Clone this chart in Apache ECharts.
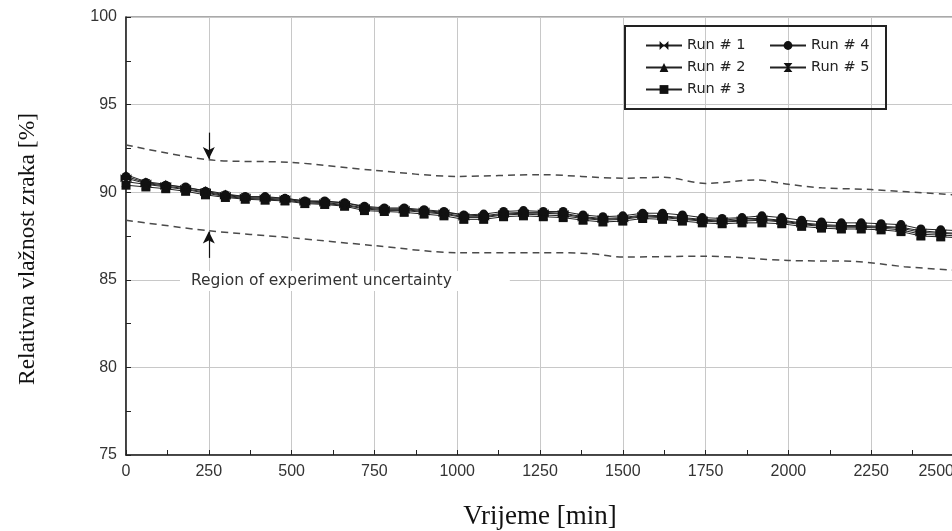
<!DOCTYPE html>
<html>
<head>
<meta charset="utf-8">
<script src="https://cdn.jsdelivr.net/npm/echarts@6/dist/echarts.min.js"></script>
<style>html,body{margin:0;padding:0;background:#fff}#c{width:952px;height:531px}</style>
</head>
<body>
<div id="c"></div>
<script>
const time = [0,60,120,180,240,300,360,420,480,540,600,660,720,780,840,900,960,1020,1080,1140,1200,1260,1320,1380,1440,1500,1560,1620,1680,1740,1800,1860,1920,1980,2040,2100,2160,2220,2280,2340,2400,2460,2520];
const run1 = [90.8,90.5,90.35,90.2,90.0,89.8,89.7,89.65,89.6,89.45,89.4,89.3,89.1,89.0,89.0,88.9,88.8,88.6,88.6,88.75,88.8,88.8,88.75,88.55,88.45,88.5,88.65,88.6,88.5,88.4,88.35,88.4,88.45,88.35,88.2,88.1,88.05,88.05,88.0,87.95,87.7,87.65,87.6];
const run2 = [91.0,90.6,90.45,90.25,90.1,89.9,89.75,89.7,89.65,89.5,89.45,89.4,89.15,89.05,89.05,88.95,88.85,88.7,88.65,88.8,88.85,88.85,88.8,88.6,88.5,88.55,88.7,88.65,88.55,88.45,88.4,88.5,88.5,88.4,88.25,88.15,88.1,88.1,88.05,88.0,87.8,87.7,87.65];
const run3 = [90.4,90.3,90.2,90.05,89.85,89.7,89.6,89.55,89.5,89.35,89.3,89.2,88.95,88.9,88.85,88.75,88.65,88.45,88.45,88.6,88.65,88.6,88.55,88.4,88.3,88.35,88.5,88.45,88.35,88.25,88.2,88.25,88.25,88.2,88.05,87.95,87.9,87.9,87.85,87.75,87.5,87.45,87.4];
const run4 = [90.9,90.55,90.4,90.3,90.05,89.85,89.75,89.75,89.65,89.5,89.5,89.4,89.2,89.1,89.1,89.0,88.9,88.7,88.75,88.9,88.95,88.9,88.9,88.7,88.6,88.65,88.8,88.8,88.7,88.55,88.5,88.55,88.65,88.55,88.4,88.3,88.25,88.25,88.2,88.15,87.9,87.85,87.8];
const run5 = [90.6,90.45,90.3,90.15,89.95,89.75,89.65,89.6,89.55,89.4,89.35,89.25,89.05,88.95,88.95,88.85,88.75,88.55,88.55,88.7,88.75,88.7,88.65,88.5,88.4,88.45,88.6,88.55,88.45,88.35,88.3,88.35,88.4,88.3,88.15,88.05,88.0,88.0,87.95,87.85,87.6,87.55,87.5];
const upperTime = [0,250,500,750,1000,1250,1500,1625,1750,1900,2000,2100,2250,2500];
const upperVal  = [92.7,91.85,91.7,91.25,90.9,91.0,90.8,90.85,90.5,90.7,90.45,90.25,90.15,89.85];
const lowerTime = [0,250,500,750,1000,1250,1400,1500,1750,2000,2200,2350,2500];
const lowerVal  = [88.4,87.8,87.4,86.95,86.55,86.55,86.5,86.3,86.35,86.1,86.05,85.75,85.55];
const runNames = ['Run # 1','Run # 2','Run # 3','Run # 4','Run # 5'];
const yTicks = [75,80,85,90,95,100];
const xTicks = [0,250,500,750,1000,1250,1500,1750,2000,2250,2500];
const annotation = 'Region of experiment uncertainty';

const runs = [run1, run2, run3, run4, run5];
const symbols = [
  'path://M0,0 L10,5 L0,10 Z M20,0 L10,5 L20,10 Z',
  'triangle',
  'rect',
  'circle',
  'path://M0,0 L10,0 L6,5 L10,10 L0,10 L4,5 Z'
];
const sizes = [[11,8],9,9,9,[9,10]];

const pair = (xs, ys) => xs.map((x, i) => [x, ys[i]]);

const chart = echarts.init(document.getElementById('c'), null, {renderer: 'canvas'});
const series = runs.map((r, k) => ({
  name: runNames[k],
  type: 'line',
  data: pair(time, r),
  symbol: symbols[k],
  symbolSize: sizes[k],
  showAllSymbol: true,
  lineStyle: {color: '#222', width: 1},
  itemStyle: {color: '#111'},
  z: 3
}));
series.push({
  name: 'upper', type: 'line', data: pair(upperTime, upperVal), smooth: 0.3,
  symbol: 'none', lineStyle: {color: '#4a4a4a', width: 1.5, type: [7, 5]}, z: 2,
  markLine: {
    silent: true, symbol: ['none', 'arrow'], symbolSize: [9, 12],
    lineStyle: {color: '#111', width: 1.2, type: 'solid'}, label: {show: false},
    data: [
      [{coord: [250, 93.4]}, {coord: [250, 91.9]}],
      [{coord: [250, 86.25]}, {coord: [250, 87.75]}]
    ]
  }
});
series.push({
  name: 'lower', type: 'line', data: pair(lowerTime, lowerVal), smooth: 0.3,
  symbol: 'none', lineStyle: {color: '#4a4a4a', width: 1.5, type: [7, 5]}, z: 2
});

const legendText = {fontFamily: 'DejaVu Sans', fontSize: 14.5, color: '#222'};
const tickFont = {fontFamily: 'Liberation Sans', fontSize: 16, color: '#333'};
chart.setOption({
  animation: false,
  backgroundColor: '#fff',
  grid: {left: 126, top: 17, width: 828, height: 438, containLabel: false,
         outerBoundsMode: 'none', show: true, borderColor: '#555', borderWidth: 1.2},
  xAxis: {
    type: 'value', min: xTicks[0], max: xTicks[xTicks.length - 1], interval: 250,
    name: 'Vrijeme [min]', nameLocation: 'middle', nameGap: 48,
    nameTextStyle: {fontFamily: 'Liberation Serif', fontSize: 27, color: '#111'},
    axisLine: {show: true, onZero: false, lineStyle: {color: '#222', width: 1.5}},
    axisTick: {show: true, inside: true, length: 5, lineStyle: {color: '#222'}},
    minorTick: {show: true, splitNumber: 2, length: 5, lineStyle: {color: '#222'}},
    axisLabel: Object.assign({margin: 9, alignMaxLabel: 'right', formatter: v => String(v)}, tickFont),
    splitLine: {show: true, lineStyle: {color: '#c8c8c8', width: 1}}
  },
  yAxis: {
    type: 'value', min: yTicks[0], max: yTicks[yTicks.length - 1], interval: 5,
    name: 'Relativna vlažnost zraka [%]', nameLocation: 'middle', nameGap: 86,
    nameTextStyle: {fontFamily: 'Liberation Serif', fontSize: 23.5, color: '#111', padding: [0, 26, 0, 0]},
    axisLine: {show: true, lineStyle: {color: '#222', width: 1.5}},
    axisTick: {show: true, inside: true, length: 5, lineStyle: {color: '#222'}},
    minorTick: {show: true, splitNumber: 2, length: 5, lineStyle: {color: '#222'}},
    axisLabel: Object.assign({margin: 9, formatter: v => String(v)}, tickFont),
    splitLine: {show: true, lineStyle: {color: '#c8c8c8', width: 1}}
  },
  legend: [
    {data: runNames.slice(0, 3), orient: 'vertical', left: 640, top: 33, itemGap: 7,
     itemWidth: 36, itemHeight: 11, textStyle: legendText, selectedMode: false},
    {data: runNames.slice(3), orient: 'vertical', left: 764, top: 33, itemGap: 7,
     itemWidth: 36, itemHeight: 11, textStyle: legendText, selectedMode: false}
  ],
  graphic: [
    {type: 'rect', left: 624, top: 25, shape: {width: 261, height: 83},
     style: {fill: 'rgba(0,0,0,0)', stroke: '#222', lineWidth: 2}, z: 10},
    {type: 'text', left: 180, top: 271, z: 5,
     style: {text: annotation, font: '15.5px "DejaVu Sans"', fill: '#333',
             backgroundColor: '#fff', padding: [2, 58, 2, 11]}}
  ],
  series: series
});
</script>
</body>
</html>
